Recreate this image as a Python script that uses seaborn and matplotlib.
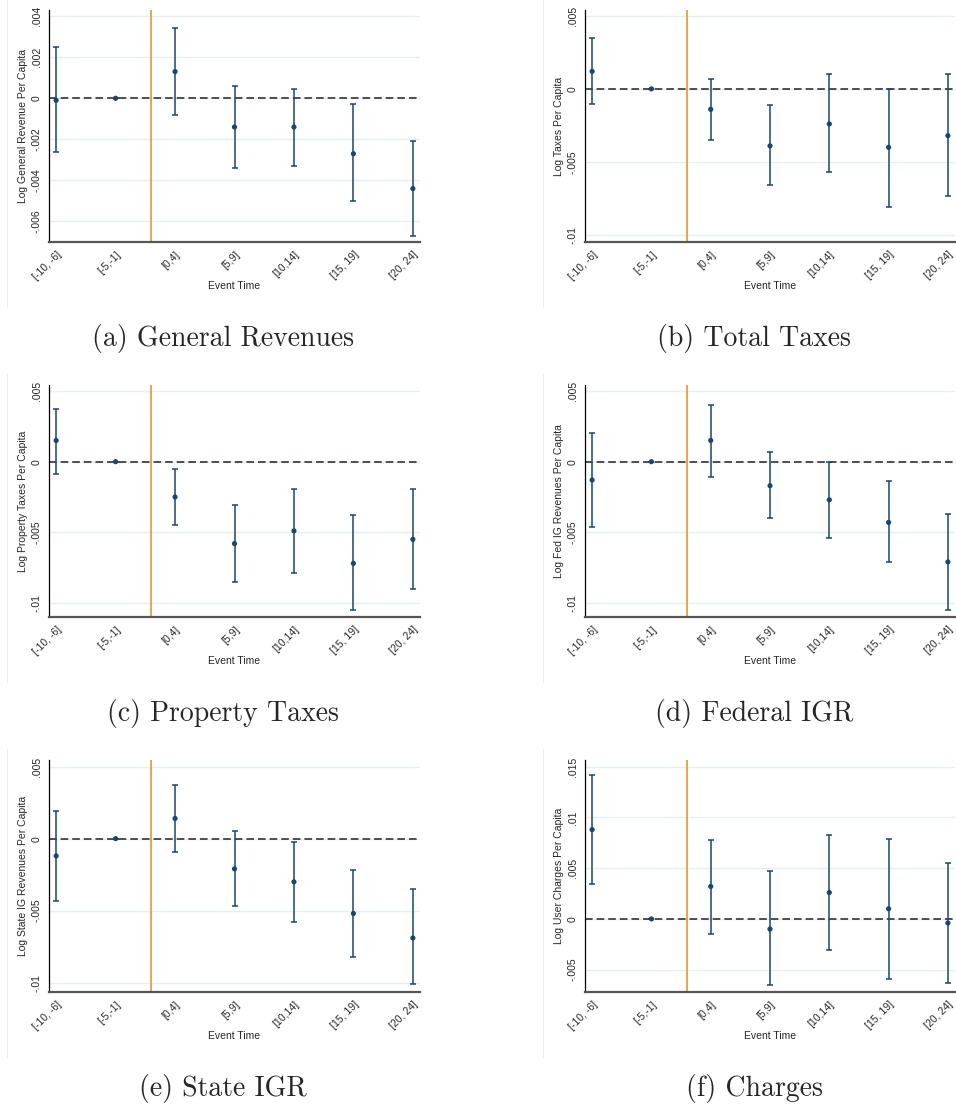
import numpy as np
import matplotlib
matplotlib.use("Agg")
import matplotlib.pyplot as plt
from matplotlib.lines import Line2D
import seaborn as sns

# event-time bins and their midpoints (x axis)
bins = ["[-10, -6]", "[-5,-1]", "[0,4]", "[5,9]", "[10,14]", "[15, 19]", "[20, 24]"]
event_mid = [-8, -3, 2, 7, 12, 17, 22]

# point estimates and 95% CI bounds
gen_rev_est = [-0.0001, 0, 0.0013, -0.0014, -0.0014, -0.0027, -0.0044]
gen_rev_lo = [-0.0026, 0, -0.0008, -0.0034, -0.0033, -0.0050, -0.0067]
gen_rev_hi = [0.0025, 0, 0.0034, 0.0006, 0.00045, -0.0003, -0.0021]

tax_est = [0.0012, 0, -0.0014, -0.0039, -0.0024, -0.0040, -0.0032]
tax_lo = [-0.0010, 0, -0.0035, -0.0066, -0.0057, -0.0081, -0.0073]
tax_hi = [0.0035, 0, 0.0007, -0.0011, 0.0010, 0.0000, 0.0010]

prop_est = [0.0015, 0, -0.0025, -0.0058, -0.0049, -0.0072, -0.0055]
prop_lo = [-0.0009, 0, -0.0045, -0.0085, -0.0079, -0.0105, -0.0090]
prop_hi = [0.0037, 0, -0.0005, -0.0031, -0.0019, -0.0038, -0.0019]

fed_est = [-0.0013, 0, 0.0015, -0.0017, -0.0027, -0.0043, -0.0071]
fed_lo = [-0.0046, 0, -0.0011, -0.0040, -0.0054, -0.0071, -0.0105]
fed_hi = [0.0020, 0, 0.0040, 0.0007, 0.0000, -0.0014, -0.0037]

state_est = [-0.0012, 0, 0.0014, -0.0021, -0.0030, -0.0052, -0.0069]
state_lo = [-0.0043, 0, -0.0009, -0.0047, -0.0058, -0.0082, -0.0101]
state_hi = [0.0019, 0, 0.0037, 0.0005, -0.0002, -0.0022, -0.0035]

chg_est = [0.0088, 0, 0.0032, -0.0010, 0.0026, 0.0010, -0.0004]
chg_lo = [0.0034, 0, -0.0015, -0.0065, -0.0031, -0.0059, -0.0063]
chg_hi = [0.0142, 0, 0.0078, 0.0047, 0.0083, 0.0079, 0.0055]

captions = ["(a) General Revenues", "(b) Total Taxes", "(c) Property Taxes",
            "(d) Federal IGR", "(e) State IGR", "(f) Charges"]
ylabels = ["Log General Revenue Per Capita", "Log Taxes Per Capita",
           "Log Property Taxes Per Capita", "Log Fed IG Revenues Per Capita",
           "Log State IG Revenues Per Capita", "Log User Charges Per Capita"]

ticks_a = [-0.006, -0.004, -0.002, 0, 0.002, 0.004]
ticks_b = [-0.01, -0.005, 0, 0.005]
ticks_f = [-0.005, 0, 0.005, 0.01, 0.015]

panels = [
    (gen_rev_est, gen_rev_lo, gen_rev_hi, ticks_a, (-0.0070, 0.0043)),
    (tax_est, tax_lo, tax_hi, ticks_b, (-0.01048, 0.0054)),
    (prop_est, prop_lo, prop_hi, ticks_b, (-0.0110, 0.00543)),
    (fed_est, fed_lo, fed_hi, ticks_b, (-0.0110, 0.00543)),
    (state_est, state_lo, state_hi, ticks_b, (-0.01065, 0.00546)),
    (chg_est, chg_lo, chg_hi, ticks_f, (-0.0072, 0.01566)),
]

navy = "#1a476f"
orange = "#de9a2c"
grid_col = "#e6eef0"


def stata_fmt(v, pos=None):
    # stata style: drop the leading zero (.004, -.01)
    if abs(v) < 1e-12:
        return "0"
    s = f"{round(v, 6):g}"
    return s.replace("0.", ".", 1)


sns.set_style("white")
plt.rcParams['font.family'] = ['Liberation Sans', 'DejaVu Sans']

W, H = 956, 1106
fig = plt.figure(figsize=(W / 100, H / 100), dpi=100)

col_left = [49, 585]
col_w = [371, 370]
row_top = [10, 385, 760]
ax_h = 232
cap_x = [223, 754]
cap_base = [346, 721, 1096]
border_x = [7, 543]
border_y = [(0, 307), (374, 682), (749, 1057)]

# faint graph-region borders from the exported stata graphs
for (y0, y1) in border_y:
    for bx in border_x:
        fig.add_artist(Line2D([bx / W, bx / W], [1 - y0 / H, 1 - y1 / H],
                              color="#eeeeee", lw=0.8, transform=fig.transFigure))

for i, (est, lo, hi, yt, ylim) in enumerate(panels):
    r, c = divmod(i, 2)
    ax = fig.add_axes([col_left[c] / W, 1 - (row_top[r] + ax_h) / H,
                       col_w[c] / W, ax_h / H])

    est = np.array(est)
    lo = np.array(lo)
    hi = np.array(hi)

    # gridlines + reference lines
    for t in yt:
        ax.axhline(t, color=grid_col, lw=1.0, zorder=0)
    ax.axhline(0, color="#222222", lw=1.1, ls=(0, (5, 2.6)), zorder=1)
    ax.axvline(0, color=orange, lw=1.2, zorder=1)

    ax.errorbar(event_mid, est, yerr=[est - lo, hi - est], fmt="none",
                ecolor=navy, elinewidth=1.1, capsize=2.3, capthick=1.1, zorder=2)
    sns.scatterplot(x=event_mid, y=est, color=navy, s=14, edgecolor="none",
                    ax=ax, zorder=3, legend=False)

    ax.set_xlim(-8.6, 22.6)
    ax.set_ylim(*ylim)
    ax.set_xticks(event_mid)
    ax.set_xticklabels(bins, rotation=45, ha="right", va="top",
                       rotation_mode="anchor", fontsize=7.5)
    ax.set_yticks(yt)
    ax.set_yticklabels([stata_fmt(t) for t in yt], rotation=90, va="center",
                       fontsize=7.5)
    ax.tick_params(axis="y", length=3.6, width=0.8, color="black", pad=1.5)
    ax.tick_params(axis="x", length=3.6, width=0.8, color="#333333", pad=1.5)

    ax.set_xlabel("Event Time", fontsize=7.5)
    ax.set_ylabel(ylabels[i], fontsize=7.5)
    ax.xaxis.set_label_coords(0.5, -0.168)
    ax.yaxis.set_label_coords(-0.057, 0.5)

    sns.despine(ax=ax)
    ax.spines["left"].set_color("black")
    ax.spines["left"].set_linewidth(0.9)
    ax.spines["bottom"].set_color("#555555")
    ax.spines["bottom"].set_linewidth(1.6)

    fig.text(cap_x[c] / W, 1 - cap_base[r] / H, captions[i], ha="center",
             va="baseline", fontsize=20, family="cmr10")

fig.savefig("out.png", dpi=100)
plt.close(fig)
